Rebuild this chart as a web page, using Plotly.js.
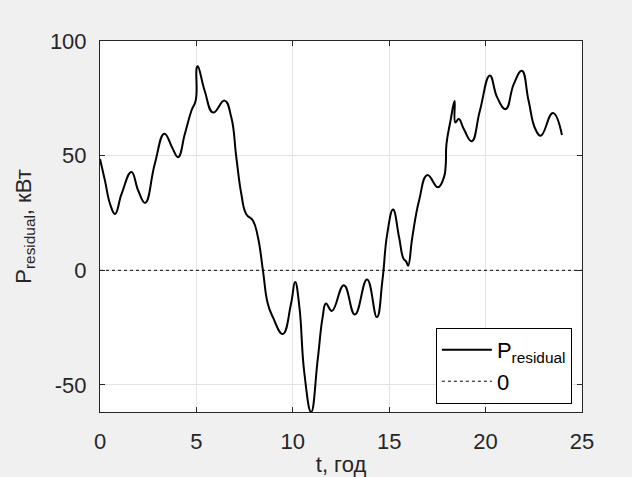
<!DOCTYPE html>
<html>
<head>
<meta charset="utf-8">
<script src="https://cdn.plot.ly/plotly-3.0.1.min.js"></script>
<style>html,body{margin:0;padding:0;background:#f0f0f0;}#chart{width:632px;height:477px;}</style>
</head>
<body>
<div id="chart"></div>
<script>
const tHours = [0, 0.26, 0.52, 0.78, 1.12, 1.63, 1.98, 2.34, 2.84, 3.34, 3.74, 4.05, 4.4, 4.74, 4.97,
  5.02, 5.07, 5.43, 5.87, 6.46, 6.81, 7.07, 7.33, 7.58, 7.93, 8.19, 8.45, 8.70, 8.96, 9.48, 9.91,
  10.12, 10.34, 10.6, 10.95, 11.29, 11.55, 11.72, 12.03, 12.65, 13.22, 13.85, 14.36, 14.65, 14.9,
  15.2, 15.51, 15.74, 15.88, 15.98, 16.2, 16.55, 16.98, 17.53, 17.84, 17.93, 17.97, 18.18, 18.39,
  18.43, 18.61, 18.87, 19.28, 19.7, 20.22, 20.6, 21.04, 21.46, 21.88, 22.23, 22.58, 22.86, 23.49, 23.96];
const pResidual = [48.5, 39, 29, 24.6, 33.3, 42.9, 34.8, 29.4, 46.4, 59.6, 53.6, 49.3, 59.4, 69.6, 74.3,
  88.5, 89, 78.3, 68.8, 74.0, 66.7, 49.3, 33.3, 24.6, 21.7, 14.5, 0, -14.5, -20.3, -27.8, -14.5,
  -5.1, -15.9, -44.9, -61.8, -39.1, -20.3, -14.5, -17.7, -6.5, -19.3, -4.0, -20.4, -4.3, 16,
  26.5, 14.5, 5.1, 3.8, 2.0, 14.5, 30.4, 41.5, 36.2, 40.6, 45.7, 55, 65.2, 73.8,
  64.5, 66, 61.6, 56.3, 69.5, 85, 75.4, 70.3, 81.2, 87, 73.9, 61.6, 58.7, 68.6, 59];
const zeroX = [0, 25];
const zeroY = [0, 0];
const xTicks = [0, 5, 10, 15, 20, 25];
const yTicks = [-50, 0, 50, 100];

const fontFam = '"Liberation Sans", Arial, Helvetica, sans-serif';
const axisCol = '#262626';

const traces = [
  {x: tHours, y: pResidual, type: 'scatter', mode: 'lines', name: 'P<sub>residual</sub>',
   line: {color: '#000000', width: 2, shape: 'spline', smoothing: 1.3}},
  {x: zeroX, y: zeroY, type: 'scatter', mode: 'lines', name: '0',
   line: {color: '#000000', width: 1, dash: 'dot'}}
];

const layout = {
  width: 632, height: 477,
  paper_bgcolor: '#f0f0f0', plot_bgcolor: '#ffffff',
  margin: {l: 100, r: 50, t: 41, b: 65, pad: 0},
  font: {family: fontFam, size: 22, color: axisCol},
  showlegend: true,
  legend: {x: 0.979, y: 0.022, xanchor: 'right', yanchor: 'bottom',
    bgcolor: '#ffffff', bordercolor: '#000000', borderwidth: 1, itemwidth: 50,
    font: {family: fontFam, size: 22, color: '#000000'}, tracegroupgap: 0},
  xaxis: {range: [0, 25], tickvals: xTicks, ticktext: xTicks.map(String),
    showgrid: true, gridcolor: '#e3e3e3', gridwidth: 1, zeroline: false,
    showline: true, linecolor: axisCol, linewidth: 1, mirror: 'ticks',
    ticks: 'inside', ticklen: 5, tickcolor: axisCol, ticklabelstandoff: 10,
    tickfont: {family: fontFam, size: 22, color: axisCol},
    title: {text: 't, год', font: {family: fontFam, size: 22, color: axisCol}, standoff: 18}},
  yaxis: {range: [-61.8, 100], tickvals: yTicks, ticktext: yTicks.map(String),
    showgrid: true, gridcolor: '#e3e3e3', gridwidth: 1, zeroline: false,
    showline: true, linecolor: axisCol, linewidth: 1, mirror: 'ticks',
    ticks: 'inside', ticklen: 5, tickcolor: axisCol, ticklabelstandoff: 8,
    tickfont: {family: fontFam, size: 22, color: axisCol},
    title: {text: 'P<sub>residual</sub>, кВт', font: {family: fontFam, size: 22, color: axisCol}, standoff: 12}}
};

Plotly.newPlot('chart', traces, layout, {displayModeBar: false, staticPlot: true});
</script>
</body>
</html>
